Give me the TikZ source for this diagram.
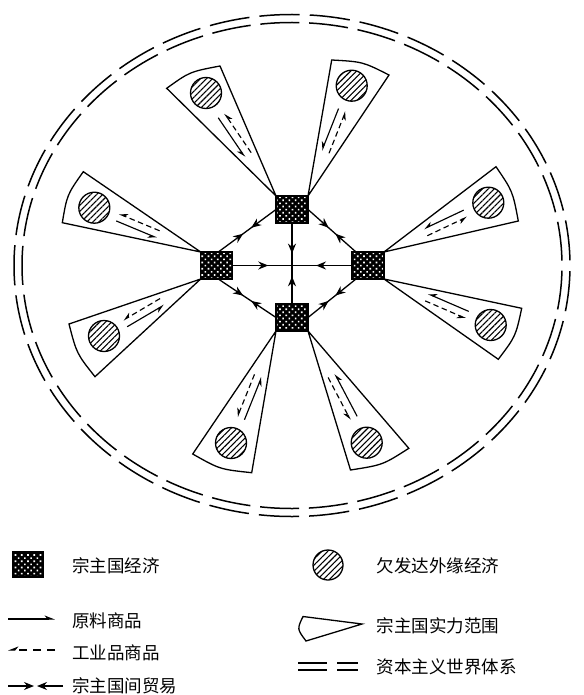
\documentclass[tikz,border=0pt]{standalone}
\usepackage{fontspec}
\newfontfamily\cjk{Noto Sans CJK SC}
\usetikzlibrary{arrows.meta,calc,patterns.meta,decorations.markings}
\newcommand\sectorwedge[5]{%
  \coordinate (#1a) at (#2);
  \coordinate (#1p) at (#3);
  \coordinate (#1q) at (#4);
  \coordinate (#1m) at ($(#1p)!0.5!(#1q)$);
  \coordinate (#1k) at ($(#1a)!1.045!(#1m)$);
  \draw[sector] (#1a) -- (#1p) .. controls (#1k) .. (#1q) -- cycle;
  \node[periph] (#1o) at (#5) {};
  \coordinate (#1s) at ($(#1a)!0.78!(#1o.center)!3.8pt!90:(#1o.center)$);
  \coordinate (#1t) at ($(#1a)!0.40!(#1o.center)!3.8pt!90:(#1o.center)$);
  \coordinate (#1u) at ($(#1a)!0.40!(#1o.center)!3.8pt!-90:(#1o.center)$);
  \coordinate (#1v) at ($(#1a)!0.78!(#1o.center)!3.8pt!-90:(#1o.center)$);
  \draw[raw] (#1s) -- (#1t);
  \draw[ind] (#1u) -- (#1v);
}
\begin{document}
\begin{tikzpicture}[x=1pt,y=-1pt,
  every node/.style={inner sep=0pt,outer sep=0pt},
  core/.style={draw,line width=1.4pt,minimum width=32pt,minimum height=27pt,
    preaction={fill=black},
    pattern={Dots[radius=1.15pt,distance=4.4pt,angle=45]},pattern color=white},
  periph/.style={circle,draw,line width=1.3pt,minimum size=31pt,
    pattern={Lines[angle=45,distance=4.2pt,line width=1.1pt]}},
  sector/.style={draw,line width=1.3pt,line join=miter},
  raw/.style={line width=1.15pt,-{Stealth[harpoon,swap,length=7.5pt,width=7pt]}},
  ind/.style={line width=1.15pt,dash pattern=on 5.5pt off 3.5pt,-{Stealth[harpoon,swap,length=7.5pt,width=7pt]}},
  trade/.style={line width=1.3pt},
  flowin/.style={postaction={decorate},decoration={markings,
    mark=at position #1 with {\arrow{Stealth[length=10pt,width=8pt]}}}},
  meet/.style={postaction={decorate},decoration={markings,
    mark=at position 0.43 with {\arrow{Stealth[length=10pt,width=8pt]}},
    mark=at position 0.57 with {\arrowreversed{Stealth[length=10pt,width=8pt]}}}},
  ring/.style={line width=1.5pt},
  txt/.style={anchor=west,font=\cjk\fontsize{17.5pt}{20pt}\selectfont}
]
\useasboundingbox (0,0) rectangle (583,695);

% world system rings
\coordinate (ctr) at (292,265.5);
\draw[ring,dash pattern=on 40.3pt off 10.08pt,dash phase=45.3pt] (ctr) ellipse [x radius=278pt,y radius=251pt];
\draw[ring,dash pattern=on 39.1pt off 9.77pt,dash phase=43.98pt] (ctr) ellipse [x radius=270pt,y radius=243pt];

% core economies
\node[core] (top) at (292,209.5) {};
\node[core] (lft) at (216.7,265.5) {};
\node[core] (rgt) at (368,265.5) {};
\node[core] (bot) at (292,317.5) {};
\coordinate (mid) at (292,265.5);

% sectors
\sectorwedge{A}{top.north west}{166.7,88.3}{220,66}{206,93}
\sectorwedge{B}{top.north east}{331.7,60}{389,75}{351.7,85.7}
\sectorwedge{C}{lft.north west}{83.3,171.7}{62.3,222.7}{94.3,207.7}
\sectorwedge{D}{lft.south west}{69,324}{95,376.7}{104,336}
\sectorwedge{E}{rgt.north east}{496,166.7}{518.3,221}{488.3,202.7}
\sectorwedge{F}{rgt.south east}{521.7,308.3}{498.3,359.3}{490.7,325}
\sectorwedge{G}{bot.south west}{192.7,454}{251.7,472.7}{231,443}
\sectorwedge{H}{bot.south east}{350.5,470}{408.8,448.3}{366.7,442.7}

% trade between cores
\draw[trade,flowin=0.6] (lft.east) -- (mid);
\draw[trade,flowin=0.6] (rgt.west) -- (mid);
\draw[trade,flowin=0.72] (top.south) -- (mid);
\draw[trade,flowin=0.72] (bot.north) -- (mid);
\coordinate (lftn) at (218.3,252);
\coordinate (lfts) at (218.3,279);
\coordinate (rgtn) at (356,252);
\coordinate (rgts) at (356,279);
\draw[trade,meet] (top.west) -- (lftn);
\draw[trade,meet] (top.east) -- (rgtn);
\draw[trade,meet] (bot.west) -- (lfts);
\draw[trade,meet] (bot.east) -- (rgts);

% legend
\node[core,minimum width=30pt,minimum height=25pt] (lgcore) at (28,564.5) {};
\node[txt] (tcore) at (72,566) {宗主国经济};
\node[periph,minimum size=30pt] (lgper) at (328,565) {};
\node[txt] (tper) at (376.7,565.5) {欠发达外缘经济};

\coordinate (r1) at (8,619);
\coordinate (r2) at (55,619);
\draw[line width=1.1pt,-{Stealth[harpoon,length=9pt,width=7pt]}] (r1) -- (r2);
\node[txt] (traw) at (72,620.5) {原料商品};

\coordinate (d1) at (55,650);
\coordinate (d2) at (8,650);
\draw[line width=1.1pt,dash pattern=on 8pt off 6pt,-{Stealth[harpoon,swap,length=9pt,width=7pt]}] (d1) -- (d2);
\node[txt] (tind) at (72,652.5) {工业品商品};

\coordinate (m1) at (8,686);
\coordinate (m2) at (34,686);
\coordinate (m3) at (63,686);
\coordinate (m4) at (37,686);
\draw[trade,-{Stealth[length=10pt,width=8pt]}] (m1) -- (m2);
\draw[trade,-{Stealth[length=10pt,width=8pt]}] (m3) -- (m4);
\node[txt] (ttrade) at (72,686) {宗主国间贸易};

\coordinate (wa) at (362,624);
\coordinate (wp) at (303,616.5);
\coordinate (wq) at (306,641);
\draw[sector] (wa) -- (wp) .. controls (297,629) .. (wq) -- cycle;
\node[txt] (tsec) at (376.7,625.5) {宗主国实力范围};

\coordinate (e1) at (298,663);
\coordinate (e2) at (327,663);
\coordinate (e3) at (298,670);
\coordinate (e4) at (327,670);
\coordinate (e5) at (337,663);
\coordinate (e6) at (358,663);
\coordinate (e7) at (337,670);
\coordinate (e8) at (358,670);
\draw[ring] (e1) -- (e2);
\draw[ring] (e3) -- (e4);
\draw[ring] (e5) -- (e6);
\draw[ring] (e7) -- (e8);
\node[txt] (tring) at (376.7,667) {资本主义世界体系};
\end{tikzpicture}
\end{document}
